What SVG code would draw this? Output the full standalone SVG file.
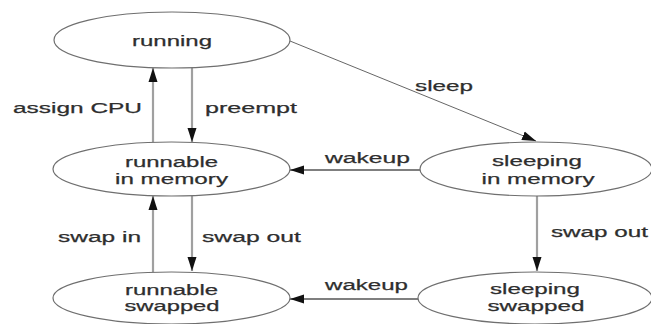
<svg xmlns="http://www.w3.org/2000/svg" width="651" height="324" viewBox="0 0 651 324">
  <style>
    .state ellipse { fill: #ffffff; stroke: #6f6f6f; stroke-width: 1.2; }
    text { font-family: "Liberation Sans", Arial, sans-serif; font-size: 15.5px; fill: #2e2e2e; stroke: #2e2e2e; stroke-width: 0.25; }
    .name { text-anchor: middle; }
    .edge { fill: none; stroke-width: 1.3; }
    .pale { stroke: #a0a0a0; stroke-width: 2.2; }
    .dark { stroke: #555555; }
    .thin { stroke: #666666; stroke-width: 1; }
  </style>
  <defs>
    <marker id="head" markerUnits="userSpaceOnUse" markerWidth="15" markerHeight="11" refX="14" refY="5.5" orient="auto">
      <path d="M0,1 L14,5.5 L0,10 z" fill="#111111"/>
    </marker>
  </defs>
  <rect width="651" height="324" fill="#ffffff"/>

  <g id="connectors">
    <line class="edge pale" x1="153" y1="142" x2="153" y2="68" marker-end="url(#head)"/>
    <line class="edge pale" x1="192" y1="67" x2="192" y2="142" marker-end="url(#head)"/>
    <line class="edge pale" x1="153" y1="272" x2="153" y2="196" marker-end="url(#head)"/>
    <line class="edge pale" x1="192" y1="195" x2="192" y2="271" marker-end="url(#head)"/>
    <line class="edge pale" x1="537" y1="196" x2="537" y2="271" marker-end="url(#head)"/>
    <line class="edge thin" x1="290" y1="41" x2="536" y2="141" marker-end="url(#head)"/>
    <line class="edge dark" x1="420" y1="170" x2="290" y2="170" marker-end="url(#head)"/>
    <line class="edge dark" x1="418" y1="299" x2="290" y2="299" marker-end="url(#head)"/>
    <text x="13" y="113" textLength="129" lengthAdjust="spacingAndGlyphs">assign CPU</text>
    <text x="205" y="113" textLength="92" lengthAdjust="spacingAndGlyphs">preempt</text>
    <text x="415" y="91" textLength="58" lengthAdjust="spacingAndGlyphs">sleep</text>
    <text x="325" y="163" textLength="85" lengthAdjust="spacingAndGlyphs">wakeup</text>
    <text x="325" y="290" textLength="83" lengthAdjust="spacingAndGlyphs">wakeup</text>
    <text x="58" y="242" textLength="83" lengthAdjust="spacingAndGlyphs">swap in</text>
    <text x="202" y="242" textLength="99" lengthAdjust="spacingAndGlyphs">swap out</text>
    <text x="551" y="237" textLength="97" lengthAdjust="spacingAndGlyphs">swap out</text>
  </g>

  <g id="running" class="state">
    <ellipse cx="172" cy="40" rx="118" ry="28"/>
    <text class="name" x="172" y="46" textLength="80" lengthAdjust="spacingAndGlyphs">running</text>
  </g>

  <g id="runnable-memory" class="state">
    <ellipse cx="171.5" cy="169" rx="118.5" ry="27"/>
    <text class="name" x="171.5" y="167" textLength="93" lengthAdjust="spacingAndGlyphs">runnable</text>
    <text class="name" x="171.5" y="184" textLength="113" lengthAdjust="spacingAndGlyphs">in memory</text>
  </g>

  <g id="runnable-swapped" class="state">
    <ellipse cx="171.5" cy="298" rx="118.5" ry="26"/>
    <text class="name" x="171.5" y="295" textLength="93" lengthAdjust="spacingAndGlyphs">runnable</text>
    <text class="name" x="172" y="311" textLength="95" lengthAdjust="spacingAndGlyphs">swapped</text>
  </g>

  <g id="sleeping-memory" class="state">
    <ellipse cx="536" cy="169" rx="116" ry="27"/>
    <text class="name" x="537" y="166" textLength="90" lengthAdjust="spacingAndGlyphs">sleeping</text>
    <text class="name" x="538" y="184" textLength="113" lengthAdjust="spacingAndGlyphs">in memory</text>
  </g>

  <g id="sleeping-swapped" class="state">
    <ellipse cx="535" cy="298" rx="117" ry="26"/>
    <text class="name" x="535" y="294" textLength="90" lengthAdjust="spacingAndGlyphs">sleeping</text>
    <text class="name" x="536" y="311" textLength="97" lengthAdjust="spacingAndGlyphs">swapped</text>
  </g>
</svg>
